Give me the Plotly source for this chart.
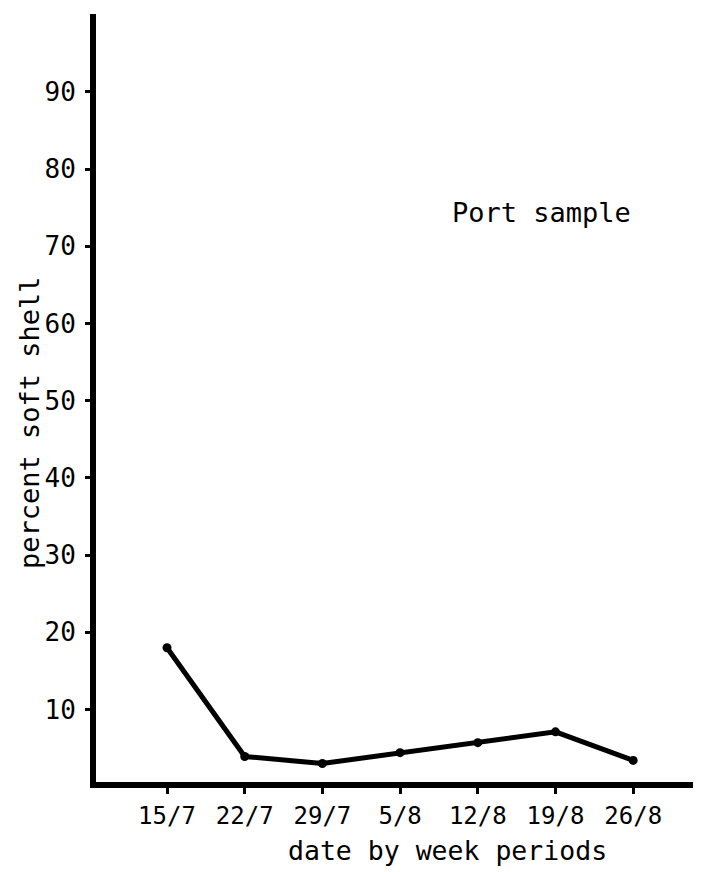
import plotly.graph_objects as go

weeks = ["15/7", "22/7", "29/7", "5/8", "12/8", "19/8", "26/8"]
percent_soft = [18, 3.9, 3.0, 4.4, 5.7, 7.1, 3.4]
y_ticks = [10, 20, 30, 40, 50, 60, 70, 80, 90]

FONT = "DejaVu Sans Mono"

# page has an 8px body margin; figure is sized to fit the window
W, H = 693, 864
L, R, T, B = 88, 1, 6, 90
PW, PH = W - L - R, H - T - B


def px(xpage):
    return (xpage - 8 - L) / PW


def py(ypage):
    return 1 - (ypage - 8 - T) / PH


fig = go.Figure()
fig.add_trace(go.Scatter(
    x=weeks, y=percent_soft, mode="lines+markers",
    line=dict(color="black", width=5),
    marker=dict(color="black", size=9),
    showlegend=False,
))

fig.update_layout(
    width=W, height=H,
    margin=dict(l=L, r=R, t=T, b=B),
    paper_bgcolor="white", plot_bgcolor="white",
    font=dict(family=FONT, color="black", size=24),
    xaxis=dict(
        type="category", range=[-0.914, 6.86],
        showline=True, linecolor="black", linewidth=6,
        showgrid=False, zeroline=False,
        ticks="outside", ticklen=6, tickwidth=3, tickcolor="black",
        tickfont=dict(family=FONT, size=24),
        ticklabelstandoff=1,
    ),
    yaxis=dict(
        range=[0.6, 100.1],
        showline=True, linecolor="black", linewidth=6,
        showgrid=False, zeroline=False,
        tickvals=y_ticks,
        ticks="outside", ticklen=5, tickwidth=3, tickcolor="black",
        tickfont=dict(family=FONT, size=26),
        ticklabelstandoff=4,
    ),
    annotations=[
        dict(text="Port sample", xref="paper", yref="paper",
             x=px(541), y=py(212),
             showarrow=False, font=dict(family=FONT, size=27),
             xanchor="center", yanchor="middle"),
        dict(text="percent soft shell", xref="paper", yref="paper",
             x=px(29), y=py(423), textangle=-90,
             showarrow=False, font=dict(family=FONT, size=27),
             xanchor="center", yanchor="middle"),
        dict(text="date by week periods", xref="paper", yref="paper",
             x=px(447), y=py(850),
             showarrow=False, font=dict(family=FONT, size=26.5),
             xanchor="center", yanchor="middle"),
    ],
)

fig.write_html("out.html")
